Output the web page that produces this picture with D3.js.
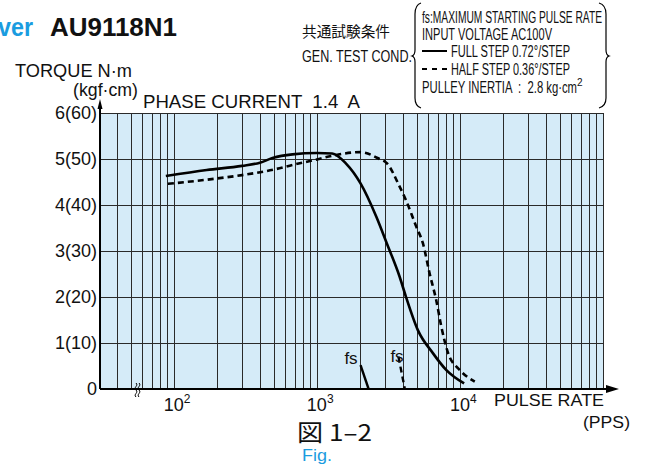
<!DOCTYPE html>
<meta charset="utf-8">
<script src="https://d3js.org/d3.v7.min.js"></script>
<style>
  body { margin: 0; background: #fff; }
  text { font-family: "Liberation Sans", Arial, Helvetica, sans-serif; fill: #111; }
  .narrow { font-family: "Liberation Sans Narrow", "Liberation Sans", Arial, sans-serif; }
</style>
<div id="my_dataviz"></div>
<script>

// full step 0.72deg (solid): pulse rate (PPS) / torque (N·m)
const fullPps    = [88, 170, 300, 400, 490, 675, 1000, 1280, 1600, 2020, 2600, 3080, 3790, 4190, 5080, 6470, 8040, 10700];
const fullTorque = [4.63, 4.76, 4.85, 4.92, 5.02, 5.10, 5.13, 5.12, 4.90, 4.47, 3.75, 3.17, 2.44, 2.01, 1.28, 0.78, 0.41, 0.12];

// half step 0.36deg (dashed)
const halfPps    = [91, 170, 300, 500, 675, 1000, 1280, 2020, 2740, 3080, 3790, 4190, 4950, 5510, 6130, 6830, 7420, 8270, 10000, 12700];
const halfTorque = [4.46, 4.55, 4.65, 4.77, 4.87, 4.99, 5.07, 5.15, 5.00, 4.91, 4.40, 4.11, 3.53, 3.17, 2.52, 1.93, 1.35, 0.78, 0.41, 0.16];

// fs (max starting pulse rate) curves
const fsFullPps = [2020, 2300], fsFullTorque = [0.52, 0];
const fsHalfPps = [3720, 4120], fsHalfTorque = [0.70, 0];

// axis labels
const yTicks = [0, 1, 2, 3, 4, 5, 6];
const yTickLabels = ["0", "1(10)", "2(20)", "3(30)", "4(40)", "5(50)", "6(60)"];
const xDecades = [100, 1000, 10000];
const xExponents = ["2", "3", "4"];

const legendLines = [
  "fs:MAXIMUM STARTING PULSE RATE",
  "INPUT VOLTAGE AC100V",
  "FULL STEP 0.72°/STEP",
  "HALF STEP 0.36°/STEP",
  "PULLEY INERTIA  :  2.8 kg·cm"
];

const W = 649, H = 468;
const plot = {left: 100, right: 603, top: 113, bottom: 389};

const svg = d3.select("#my_dataviz")
  .append("svg")
    .attr("width", W)
    .attr("height", H);

const x = d3.scaleLog().domain([30.5, 100000]).range([plot.left, plot.right]);
const y = d3.scaleLinear().domain([0, 6]).range([plot.bottom, plot.top]);

// light blue background
svg.append("rect")
  .attr("x", plot.left).attr("y", plot.top)
  .attr("width", plot.right - plot.left).attr("height", plot.bottom - plot.top)
  .attr("fill", "#d5ebf8");

// grid
const grid = svg.append("g").attr("stroke", "#2a2a2a").attr("stroke-width", 1);
grid.selectAll(".vx")
  .data(x.ticks().filter(d => d > 31))
  .join("line")
    .attr("x1", d => Math.round(x(d)) + 0.5).attr("x2", d => Math.round(x(d)) + 0.5)
    .attr("y1", plot.top).attr("y2", plot.bottom);
grid.selectAll(".hy")
  .data(yTicks.slice(1))
  .join("line")
    .attr("x1", plot.left).attr("x2", plot.right)
    .attr("y1", d => Math.round(y(d)) + 0.5).attr("y2", d => Math.round(y(d)) + 0.5);

// axes with arrows
svg.append("line").attr("x1", plot.left).attr("x2", 612).attr("y1", plot.bottom).attr("y2", plot.bottom)
  .attr("stroke", "#000").attr("stroke-width", 2);
svg.append("path").attr("d", "M619,389 L606,385 L606,393 Z").attr("fill", "#000");
svg.append("line").attr("x1", plot.left).attr("x2", plot.left).attr("y1", plot.bottom).attr("y2", 106)
  .attr("stroke", "#000").attr("stroke-width", 2);
svg.append("path").attr("d", "M100,99 L97.5,109 L102.5,109 Z").attr("fill", "#000");

// axis break mark
[0, 3].forEach(dx => {
  svg.append("path")
    .attr("d", `M${136 + dx},397 c -3,-3 3,-4 0,-7 c -3,-3 3,-4 0,-7`)
    .attr("fill", "none").attr("stroke", "#000").attr("stroke-width", 1);
});

// y tick labels
svg.append("g").selectAll("text")
  .data(yTicks)
  .join("text")
    .attr("x", 97)
    .attr("y", d => y(d))
    .attr("dy", "0.36em")
    .attr("text-anchor", "end")
    .style("font-size", "18px")
    .text((d, i) => yTickLabels[i]);

// x tick labels 10^n
xDecades.forEach((d, i) => {
  const t = svg.append("text")
    .attr("x", x(d) - 10)
    .attr("y", 411)
    .style("font-size", "18px");
  t.append("tspan").text("10");
  t.append("tspan").attr("dy", -8).style("font-size", "12px").text(xExponents[i]);
});

// curves
const line = d3.line()
  .x(d => x(d[0]))
  .y(d => y(d[1]))
  .curve(d3.curveMonotoneX);

svg.append("path")
  .datum(d3.zip(fullPps, fullTorque))
  .attr("d", line)
  .attr("fill", "none").attr("stroke", "#000").attr("stroke-width", 2.6);

svg.append("path")
  .datum(d3.zip(halfPps, halfTorque))
  .attr("d", line)
  .attr("fill", "none").attr("stroke", "#000").attr("stroke-width", 2.6)
  .attr("stroke-dasharray", "6,4");

const straight = d3.line().x(d => x(d[0])).y(d => y(d[1]));
svg.append("path")
  .datum(d3.zip(fsFullPps, fsFullTorque))
  .attr("d", straight)
  .attr("fill", "none").attr("stroke", "#000").attr("stroke-width", 2.4);
svg.append("path")
  .datum(d3.zip(fsHalfPps, fsHalfTorque))
  .attr("d", straight)
  .attr("fill", "none").attr("stroke", "#000").attr("stroke-width", 2.4)
  .attr("stroke-dasharray", "6,4");

// fs labels
svg.append("text").attr("x", 351).attr("y", 364).attr("text-anchor", "middle").style("font-size", "17px").text("fs");
svg.append("text").attr("x", 397).attr("y", 362).attr("text-anchor", "middle").style("font-size", "17px").text("fs");

// helper for fitted text
function label(txt, px, py, size, len, cls) {
  const t = svg.append("text").attr("x", px).attr("y", py).style("font-size", size + "px").text(txt);
  if (len) t.attr("textLength", len).attr("lengthAdjust", "spacingAndGlyphs");
  if (cls) t.attr("class", cls);
  return t;
}

// titles
label("ver", -2, 36, 25, 35).style("font-weight", "bold").style("fill", "#1a9ce0");
label("AU9118N1", 50, 36, 25, 127).style("font-weight", "bold");
label("共通試験条件", 302, 37, 15, 88).style("font-family", "'Noto Sans CJK JP', sans-serif");
label("GEN. TEST COND.", 302, 62, 16, 110, "narrow");

label("TORQUE N·m", 15, 77, 18, 117);
label("(kgf·cm)", 73, 96, 18, 65);
label("PHASE CURRENT  1.4  A", 143, 108, 18, 217).attr("xml:space", "preserve").style("white-space", "pre");

label("PULSE RATE", 494, 406, 17, 110);
label("(PPS)", 583, 428, 17, 47);

label("図 1–2", 297, 441, 23, 75).style("font-family", "'Noto Sans CJK JP', 'Liberation Sans', sans-serif");
label("Fig.", 302, 461, 17, 30).style("fill", "#1a9ce0");

// legend block with braces
svg.append("path")
  .attr("d", "M421,3 Q415,5 415,14 L415,50 Q415,55 412,56 Q415,57 415,62 L415,98 Q415,106 421,108")
  .attr("fill", "none").attr("stroke", "#000").attr("stroke-width", 1.2);
svg.append("path")
  .attr("d", "M599,3 Q606,5 606,14 L606,50 Q606,55 609,56 Q606,57 606,62 L606,98 Q606,106 599,108")
  .attr("fill", "none").attr("stroke", "#000").attr("stroke-width", 1.2);

label(legendLines[0], 422, 23, 16, 180, "narrow");
label(legendLines[1], 422, 40, 16, 130, "narrow");
label(legendLines[2], 451, 57, 16, 119, "narrow");
label(legendLines[3], 451, 75, 16, 119, "narrow");
label(legendLines[4], 422, 93, 16, 155, "narrow").attr("xml:space", "preserve").style("white-space", "pre");
label("2", 577, 86, 10, null, "narrow");

svg.append("line").attr("x1", 422).attr("x2", 447).attr("y1", 51).attr("y2", 51)
  .attr("stroke", "#000").attr("stroke-width", 2);
svg.append("line").attr("x1", 422).attr("x2", 447).attr("y1", 69).attr("y2", 69)
  .attr("stroke", "#000").attr("stroke-width", 2).attr("stroke-dasharray", "5,5");

</script>
